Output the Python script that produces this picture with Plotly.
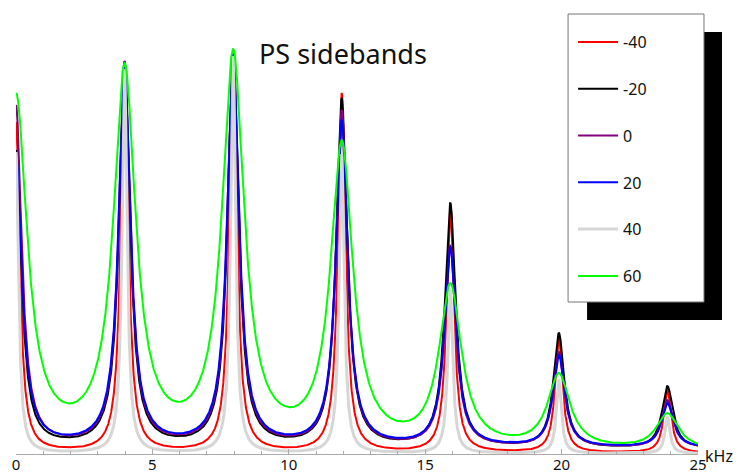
import numpy as np
import plotly.graph_objects as go

# ---------------- data ----------------
series_names = ["-40", "-20", "0", "20", "40", "60"]
series_colors = ["#ff0000", "#000000", "#800080", "#0000ff", "#d6d6d6", "#00ff00"]

peak_spacing_khz = 3.98            # sideband spacing
peak_orders = [0, 1, 2, 3, 4, 5, 6]

# peak heights (relative level) at 0, 4, 8, 12, 16, 20, 24 kHz
peaks_m40 = [332, 390, 400, 361, 246, 117, 64]
peaks_m20 = [304, 392, 402, 356, 251, 121, 68]
peaks_0 = [349, 393, 402, 344, 208, 102, 54]
peaks_20 = [300, 388, 400, 334, 207, 99, 51]
peaks_40 = [302, 385, 398, 300, 164, 74, 37]
peaks_60 = [361, 391, 405, 314, 171, 81, 41]

# Lorentzian half widths (kHz) and floor level per series
half_width_khz = [0.165, 0.24, 0.25, 0.26, 0.11, 0.49]
floor_level = [0.8, 5.0, 5.5, 6.0, 0.5, 2.0]

x_ticks = [0, 5, 10, 15, 20, 25]
x_range = [0, 25]
y_range = [0, 424]

all_peaks = [peaks_m40, peaks_m20, peaks_0, peaks_20, peaks_40, peaks_60]

# ---------------- build spectra ----------------
x = np.linspace(x_range[0], x_range[1], 5001)
orders = np.array(peak_orders)
centers = orders * peak_spacing_khz


def lorentz_sum(xv, amps, gam):
    """sum of Lorentzians at +/- centers (mirrored spectrum)"""
    out = np.zeros_like(xv, dtype=float)
    for k, a in zip(orders, amps):
        for c in ({k * peak_spacing_khz, -k * peak_spacing_khz}):
            out += a * gam**2 / ((xv - c) ** 2 + gam**2)
    return out


def spectrum(heights, gam, base):
    h = np.array(heights, dtype=float) - base
    n = len(orders)
    M = np.zeros((n, n))
    for j in range(n):
        e = np.zeros(n)
        e[j] = 1.0
        M[:, j] = lorentz_sum(centers, e, gam)
    amps = np.linalg.solve(M, h)
    return base + lorentz_sum(x, amps, gam)


fig = go.Figure()
for i, name in enumerate(series_names):
    y = spectrum(all_peaks[i], half_width_khz[i], floor_level[i])
    fig.add_trace(go.Scatter(
        x=x, y=y, mode="lines", name=name, legendgroup=name,
        line=dict(color=series_colors[i], width=3 if name == "40" else 2),
    ))

# ---------------- layout ----------------
L, R, T, B = 15.6, 42, 30, 21
W, H = 740, 475
pw, ph = W - L - R, H - T - B


def px2paper_x(px):
    return (px - L) / pw


def px2paper_y(py):
    return (H - B - py) / ph


font_family = "Noto Sans"

fig.update_layout(
    width=W, height=H,
    margin=dict(l=L, r=R, t=T, b=B, pad=0, autoexpand=False),
    paper_bgcolor="white", plot_bgcolor="white",
    showlegend=True,
    legend=dict(
        x=px2paper_x(573), y=px2paper_y(25), xanchor="left", yanchor="top",
        bgcolor="rgba(0,0,0,0)", borderwidth=0,
        font=dict(family=font_family, size=16, color="#111111"),
        tracegroupgap=23, itemwidth=40, maxheight=420,
    ),
    xaxis=dict(
        range=x_range, tickvals=x_ticks, ticks="inside", ticklen=5,
        tickcolor="#aaaaaa", showline=True, linecolor="#aaaaaa", linewidth=1,
        showgrid=False, zeroline=False, automargin=False, ticklabelstandoff=-3,
        tickfont=dict(family=font_family, size=15, color="#111111"),
        minor=dict(ticks="inside", dtick=1, ticklen=3, tickcolor="#aaaaaa", showgrid=False),
    ),
    yaxis=dict(range=y_range, visible=False, showgrid=False, zeroline=False, automargin=False),
    shapes=[
        dict(type="rect", xref="paper", yref="paper", layer="above",
             x0=px2paper_x(587), x1=px2paper_x(722), y0=px2paper_y(320), y1=px2paper_y(32),
             fillcolor="black", line=dict(width=0)),
        dict(type="rect", xref="paper", yref="paper", layer="above",
             x0=px2paper_x(568), x1=px2paper_x(704), y0=px2paper_y(302), y1=px2paper_y(14),
             fillcolor="white", line=dict(color="#777777", width=1)),
    ],
    annotations=[
        dict(text="PS sidebands", xref="paper", yref="paper",
             x=px2paper_x(343), y=px2paper_y(54), xanchor="center", yanchor="middle",
             showarrow=False, font=dict(family=font_family, size=27, color="#111111")),
        dict(text="kHz", xref="paper", yref="paper",
             x=px2paper_x(703), y=px2paper_y(456), xanchor="left", yanchor="middle",
             showarrow=False, font=dict(family=font_family, size=16, color="#111111")),
    ],
)

fig.write_html("out.html")
